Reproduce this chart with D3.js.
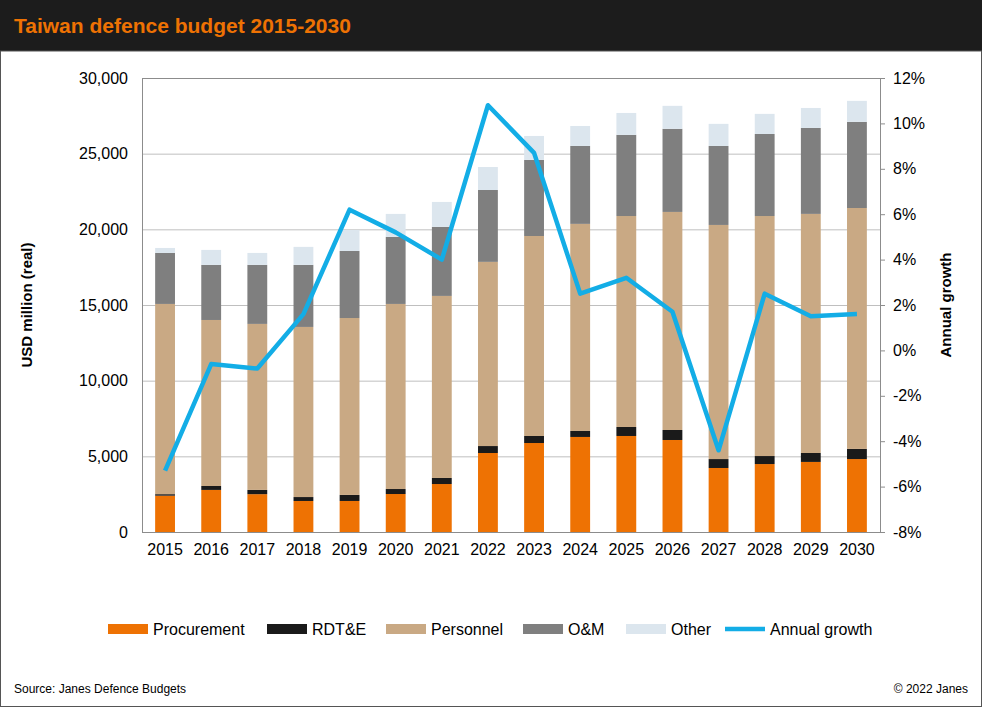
<!DOCTYPE html>
<html><head><meta charset="utf-8">
<script src="https://cdn.jsdelivr.net/npm/d3@7"></script>
<style>
body{margin:0;background:#fff;font-family:Arial,"Liberation Sans",sans-serif;}
svg text{font-family:Arial,"Liberation Sans",sans-serif;}
</style></head>
<body><div id="chart"></div>
<script>
var years = ["2015","2016","2017","2018","2019","2020","2021","2022","2023","2024","2025","2026","2027","2028","2029","2030"];
var procurement = [2400,2780,2500,2050,2050,2510,3170,5220,5880,6280,6345,6080,4230,4490,4630,4820];
var rdte = [100,260,280,260,400,330,400,460,465,395,595,660,590,530,590,670];
var personnel = [12570,10970,10970,11240,11690,12230,12030,12170,13215,13685,13940,14410,15470,15860,15800,15920];
var om = [3370,3640,3900,4100,4430,4430,4560,4750,5030,5150,5360,5490,5220,5420,5680,5690];
var other = [330,990,790,1190,1390,1520,1650,1520,1580,1320,1450,1520,1460,1330,1320,1390];
var growth = [-5.3,-0.6,-0.8,1.6,6.2,5.2,4.0,10.8,8.7,2.5,3.2,1.7,-4.4,2.5,1.5,1.6];
var leftTicks = [0,5000,10000,15000,20000,25000,30000];
var rightTicks = [-8,-6,-4,-2,0,2,4,6,8,10,12];

var seriesNames = ["Procurement","RDT&E","Personnel","O&M","Other"];
var seriesColors = ["#ee7203","#1a1a1a","#c9a984","#7f7f7f","#dce6ee"];
var lineColor = "#13ade6";

var W = 982, H = 707;
var svg = d3.select("#chart").append("svg").attr("width", W).attr("height", H);
svg.append("rect").attr("x",0).attr("y",0).attr("width",W).attr("height",51).attr("fill","#1c1c1c");
svg.append("text").attr("x",14).attr("y",33).attr("fill","#ee7203").attr("font-size",21).attr("font-weight","bold").text("Taiwan defence budget 2015-2030");
svg.append("rect").attr("x",0.5).attr("y",51).attr("width",W-1).attr("height",H-51.5).attr("fill","none").attr("stroke","#555");

var m = {left:142, right:880, top:78, bottom:532};
var x = d3.scaleBand().domain(years).range([m.left,m.right]).paddingInner(0.57).paddingOuter(0.285);
var y = d3.scaleLinear().domain([0,30000]).range([m.bottom,m.top]);
var y2 = d3.scaleLinear().domain([-8,12]).range([m.bottom,m.top]);

svg.append("g").selectAll("line").data(leftTicks.slice(1)).join("line")
  .attr("x1",m.left).attr("x2",m.right).attr("y1",d=>y(d)+0.5).attr("y2",d=>y(d)+0.5).attr("stroke","#bfbfbf");
svg.append("rect").attr("x",m.left+0.5).attr("y",m.top+0.5).attr("width",m.right-m.left).attr("height",m.bottom-m.top).attr("fill","none").attr("stroke","#8c8c8c");

var rows = years.map(function(yr,i){ return {year:yr, s0:procurement[i], s1:rdte[i], s2:personnel[i], s3:om[i], s4:other[i]}; });
var stack = d3.stack().keys(["s0","s1","s2","s3","s4"])(rows);
svg.append("g").selectAll("g").data(stack).join("g").attr("fill",(d,i)=>seriesColors[i])
  .selectAll("rect").data(d=>d).join("rect")
  .attr("x",d=>x(d.data.year)).attr("width",x.bandwidth())
  .attr("y",d=>y(d[1])).attr("height",d=>y(d[0])-y(d[1]));

var line = d3.line().x((d,i)=>x(years[i])+x.bandwidth()/2).y(d=>y2(d));
svg.append("path").datum(growth).attr("d",line).attr("fill","none").attr("stroke",lineColor).attr("stroke-width",4.5).attr("stroke-linejoin","round");

var axL = svg.append("g").attr("transform","translate("+m.left+",0)")
  .call(d3.axisLeft(y).tickValues(leftTicks).tickFormat(d3.format(",")).tickSize(0).tickPadding(14));
var axR = svg.append("g").attr("transform","translate("+m.right+",0)")
  .call(d3.axisRight(y2).tickValues(rightTicks).tickFormat(d=>d+"%").tickSize(5).tickPadding(8));
var axB = svg.append("g").attr("transform","translate(0,"+m.bottom+")")
  .call(d3.axisBottom(x).tickSize(0).tickPadding(12));
[axL,axR,axB].forEach(function(a){
  a.select(".domain").remove();
  a.selectAll("text").attr("font-size",16).attr("fill","#000");
  a.selectAll("line").attr("stroke","#8c8c8c");
});

svg.append("text").attr("transform","translate(32,305) rotate(-90)").attr("text-anchor","middle")
  .attr("font-size",15).attr("font-weight","bold").text("USD million (real)");
svg.append("text").attr("transform","translate(951,305) rotate(-90)").attr("text-anchor","middle")
  .attr("font-size",15).attr("font-weight","bold").text("Annual growth");

var legX = [108,267,386,523,626,725];
var leg = svg.append("g");
seriesNames.forEach(function(n,i){
  leg.append("rect").attr("x",legX[i]).attr("y",624).attr("width",40).attr("height",10).attr("fill",seriesColors[i]);
  leg.append("text").attr("x",legX[i]+45).attr("y",635).attr("font-size",16).text(n);
});
leg.append("line").attr("x1",legX[5]).attr("x2",legX[5]+40).attr("y1",629).attr("y2",629).attr("stroke",lineColor).attr("stroke-width",4.5);
leg.append("text").attr("x",legX[5]+45).attr("y",635).attr("font-size",16).text("Annual growth");

svg.append("text").attr("x",14).attr("y",693).attr("font-size",12).text("Source: Janes Defence Budgets");
svg.append("text").attr("x",968).attr("y",693).attr("text-anchor","end").attr("font-size",12).text("© 2022 Janes");
</script></body></html>
